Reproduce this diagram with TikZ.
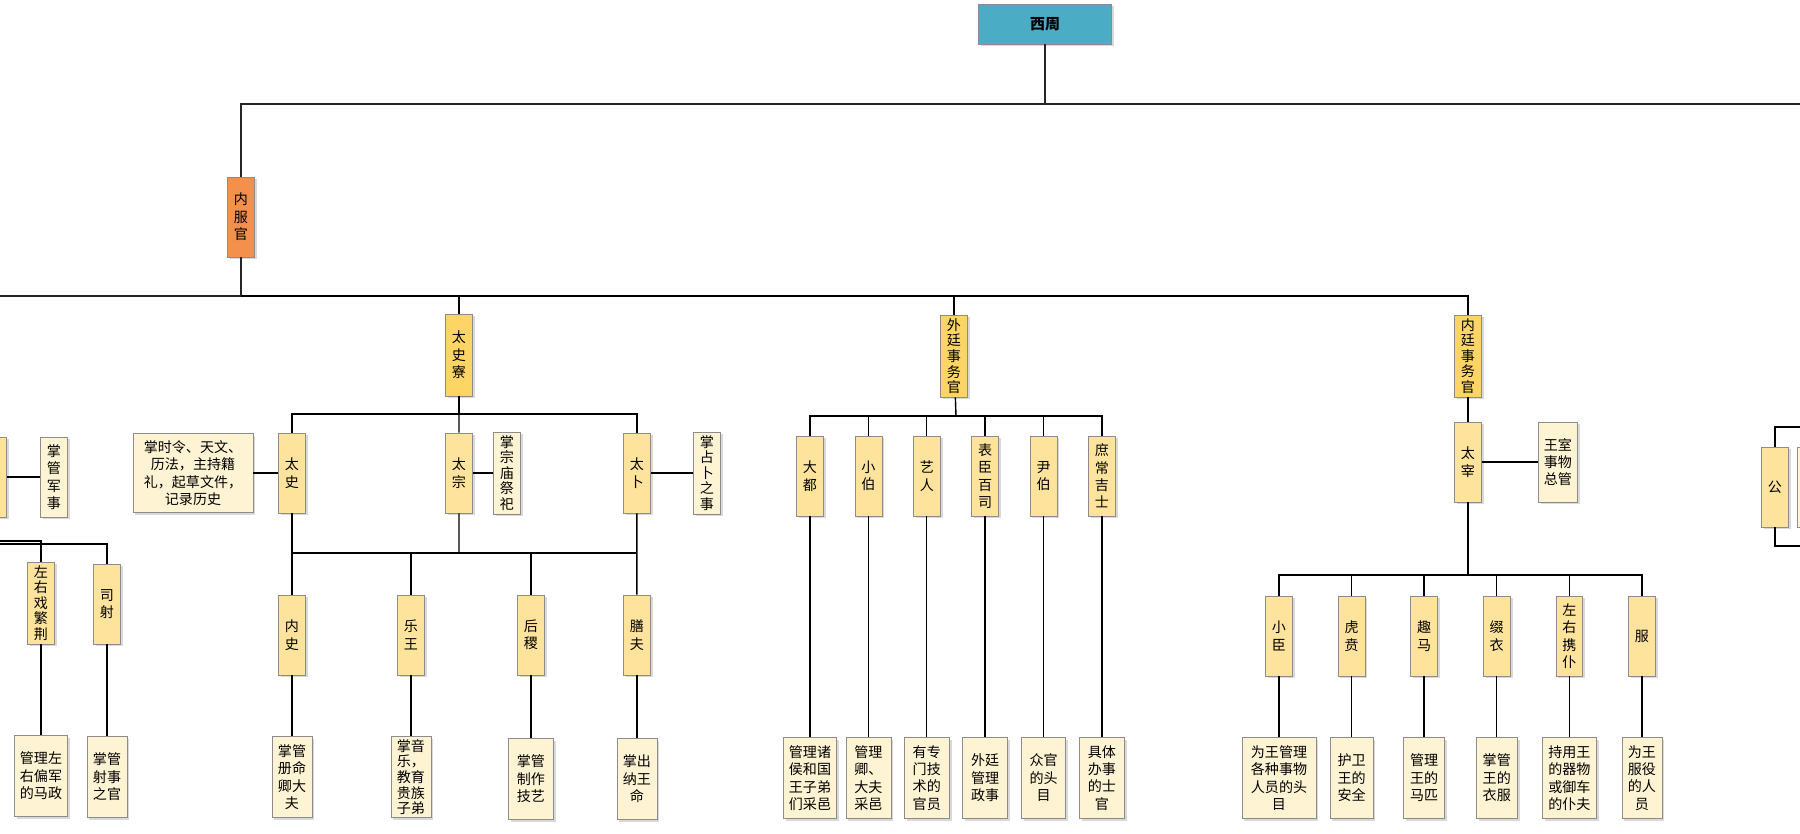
\documentclass[tikz,border=0pt]{standalone}
\usepackage{fontspec}
\newfontfamily\cjk{Noto Sans CJK SC}
\usepackage{tikz}
\usetikzlibrary{positioning,shadows}
\definecolor{zhoublue}{HTML}{4BACC6}
\definecolor{innerorange}{HTML}{F4904E}
\definecolor{deptgold}{HTML}{FCD565}
\definecolor{officegold}{HTML}{FEE39C}
\definecolor{dutycream}{HTML}{FEF3D2}
\tikzset{node distance=2cm,
  box/.style={draw=black!45, line width=0.4pt, align=center, inner sep=1pt,
    font=\cjk\fontsize{8}{9.9}\selectfont,
    drop shadow={shadow xshift=1.3pt, shadow yshift=-1.3pt, opacity=0.3}},
  tall/.style={minimum width=0.54cm, minimum height=1.6cm},
  topbox/.style={box, fill=zhoublue, minimum width=2.66cm, minimum height=0.8cm,
    font=\cjk\bfseries\fontsize{8.5}{10}\selectfont},
  rootbox/.style={box, tall, fill=innerorange},
  dept/.style={box, tall, minimum height=1.64cm, fill=deptgold},
  office/.style={box, tall, fill=officegold},
  duty/.style={box, fill=dutycream, minimum height=1.62cm},
  tight/.style={font=\cjk\fontsize{8}{8.9}\selectfont},
  trunk/.style={draw=black!85, line width=1.1pt},
  link/.style={draw, line width=0.8pt}}
\begin{document}
\begin{tikzpicture}[x=0.02cm, y=-0.02cm]
  \clip (0,0) rectangle (1800,833);
  \node[topbox] (xz) at (1045,24) {西周};
  \node[rootbox] (nfg) at (241,217) {内\\服\\官};
  \coordinate (topbus) at (1045,104);
  \coordinate (topend) at (1830,104);
  \draw[trunk] (xz) -- (topbus);
  \draw[trunk] (nfg) |- (topend);

  % inner court officials
  \coordinate (nbus) at (241,296);
  \coordinate (nbusL) at (-20,296);
  \node[dept] (tsl) at (459,355) {太\\史\\寮};
  \node[dept, tight] (wt) at (954,356) {外\\廷\\事\\务\\官};
  \node[dept, tight] (nt) at (1468,356) {内\\廷\\事\\务\\官};
  \draw[trunk] (nfg) -- (nbus);
  \draw[trunk] (nbusL) -- (nbus);
  \draw[link] (nbus) -| (tsl);
  \draw[link] (nbus) -| (wt);
  \draw[link] (nbus) -| (nt);

  % cut-off branch on the left
  \node[office] (lcut) at (-7,477) {};
  \node[duty, tall] (jgjs) at (54,477) {掌\\管\\军\\事};
  \draw[link] (lcut) -- (jgjs);
  \coordinate (lbusA) at (-20,541);
  \coordinate (lbusB) at (-20,544);
  \node[office, tight, minimum height=1.64cm] (zyxf) at (41,603) {左\\右\\戏\\繁\\荆};
  \node[office] (ss) at (107,604) {司\\射};
  \draw[link] (lbusA) -| (zyxf);
  \draw[link] (lbusB) -| (ss);
  \node[duty, minimum width=1.06cm, below of=zyxf, node distance=3.46cm] (zyxfd) {管理左\\右偏军\\的马政};
  \node[duty, minimum width=0.8cm, below of=ss, node distance=3.46cm] (ssd) {掌管\\射事\\之官};
  \draw[link] (zyxf) -- (zyxfd);
  \draw[link] (ss) -- (ssd);

  % taishiliao
  \coordinate (tslbus) at (459,414);
  \node[office] (tshi) at (292,473) {太\\史};
  \node[office, right of=tshi, node distance=3.34cm] (tzong) {太\\宗};
  \node[office, right of=tzong, node distance=3.56cm] (tbu) {太\\卜};
  \draw[link] (tsl) -- (tslbus);
  \draw[link] (tslbus) -| (tshi);
  \draw[link] (tslbus) -- (tzong);
  \draw[link] (tslbus) -| (tbu);
  \node[duty, minimum width=2.4cm, minimum height=1.58cm, left of=tshi, node distance=1.98cm] (tshid)
    {掌时令、天文、\\历法，主持籍\\礼，起草文件，\\记录历史};
  \node[duty, tall, tight, minimum height=1.64cm, right of=tzong, node distance=0.96cm] (tzongd) {掌\\宗\\庙\\祭\\祀};
  \node[duty, tall, tight, minimum height=1.64cm, right of=tbu, node distance=1.4cm] (tbud) {掌\\占\\卜\\之\\事};
  \draw[link] (tshi) -- (tshid);
  \draw[link] (tzong) -- (tzongd);
  \draw[link] (tbu) -- (tbud);

  \coordinate (tslbus2) at (459,553);
  \node[office] (nshi) at (292,635) {内\\史};
  \node[office, right of=nshi, node distance=2.38cm] (yw) {乐\\王};
  \node[office, right of=yw, node distance=2.4cm] (hj) {后\\稷};
  \node[office, right of=hj, node distance=2.12cm] (sf) {膳\\夫};
  \draw[link] (tshi) -- (nshi);
  \draw[link] (tbu) -- (sf);
  \draw[link] (tzong) -- (tslbus2);
  \draw[link] (tshi |- tslbus2) -- (tbu |- tslbus2);
  \draw[link] (yw) -- (yw |- tslbus2);
  \draw[link] (hj) -- (hj |- tslbus2);
  \node[duty, minimum width=0.8cm, below of=nshi, node distance=2.84cm] (nshid) {掌管\\册命\\卿大\\夫};
  \node[duty, tight, minimum width=0.8cm, below of=yw, node distance=2.84cm] (ywd) {掌音\\乐，\\教育\\贵族\\子弟};
  \node[duty, minimum width=0.9cm, below of=hj, node distance=2.88cm] (hjd) {掌管\\制作\\技艺};
  \node[duty, minimum width=0.8cm, below of=sf, node distance=2.88cm] (sfd) {掌出\\纳王\\命};
  \foreach \n in {nshi,yw,hj,sf} \draw[link] (\n) -- (\n d);

  % outer court affairs
  \coordinate (wtbus) at (956,416);
  \begin{scope}[node distance=1.168cm]
    \node[office] (dd) at (810,476) {大\\都};
    \node[office, right of=dd] (xb) {小\\伯};
    \node[office, right of=xb] (yr) {艺\\人};
    \node[office, right of=yr] (bc) {表\\臣\\百\\司};
    \node[office, right of=bc] (yb) {尹\\伯};
    \node[office, right of=yb] (sc) {庶\\常\\吉\\士};
  \end{scope}
  \draw[link] (wt) -- (wtbus);
  \draw[link] (dd) |- (wtbus) -| (sc);
  \foreach \n in {xb,yr,bc,yb} \draw[link] (\n) -- (\n |- wtbus);
  \begin{scope}[node distance=6.04cm]
    \node[duty, minimum width=1.06cm, below of=dd] (ddd) {管理诸\\侯和国\\王子弟\\们采邑};
    \node[duty, minimum width=0.9cm, below of=xb] (xbd) {管理\\卿、\\大夫\\采邑};
    \node[duty, minimum width=0.9cm, below of=yr] (yrd) {有专\\门技\\术的\\官员};
    \node[duty, minimum width=0.9cm, below of=bc] (bcd) {外廷\\管理\\政事};
    \node[duty, minimum width=0.88cm, below of=yb] (ybd) {众官\\的头\\目};
    \node[duty, minimum width=0.9cm, below of=sc] (scd) {具体\\办事\\的士\\官};
  \end{scope}
  \foreach \n in {dd,xb,yr,bc,yb,sc} \draw[link] (\n) -- (\n d);

  % inner court affairs
  \node[office, below of=nt, node distance=2.12cm] (tz) {太\\宰};
  \node[duty, minimum width=0.78cm, minimum height=1.6cm, right of=tz, node distance=1.8cm] (tzd) {王室\\事物\\总管};
  \draw[link] (nt) -- (tz);
  \draw[link] (tz) -- (tzd);
  \coordinate (ntbus) at (1468,575);
  \draw[link] (tz) -- (ntbus);
  \begin{scope}[node distance=1.452cm]
    \node[office] (xc) at (1279,636) {小\\臣};
    \node[office, right of=xc] (hb) {虎\\贲};
    \node[office, right of=hb] (qm) {趣\\马};
    \node[office, right of=qm] (zy) {缀\\衣};
    \node[office, right of=zy] (zyxp) {左\\右\\携\\仆};
    \node[office, right of=zyxp] (fu) {服};
  \end{scope}
  \draw[link] (xc) |- (ntbus) -| (fu);
  \foreach \n in {hb,qm,zy,zyxp} \draw[link] (\n) -- (\n |- ntbus);
  \begin{scope}[node distance=2.84cm]
    \node[duty, minimum width=1.48cm, below of=xc] (xcd) {为王管理\\各种事物\\人员的头\\目};
    \node[duty, minimum width=0.86cm, below of=hb] (hbd) {护卫\\王的\\安全};
    \node[duty, minimum width=0.82cm, below of=qm] (qmd) {管理\\王的\\马匹};
    \node[duty, minimum width=0.82cm, below of=zy] (zyd) {掌管\\王的\\衣服};
    \node[duty, minimum width=1.08cm, below of=zyxp] (zyxpd) {持用王\\的器物\\或御车\\的仆夫};
    \node[duty, minimum width=0.8cm, below of=fu] (fud) {为王\\服役\\的人\\员};
  \end{scope}
  \foreach \n in {xc,hb,qm,zy,zyxp,fu} \draw[link] (\n) -- (\n d);

  % cut-off branch on the right
  \node[office] (gong) at (1775,487) {公};
  \node[duty, tall, right of=gong, node distance=0.72cm] (gcut) {};
  \coordinate (gtop) at (1830,427);
  \coordinate (gbot) at (1830,546);
  \draw[link] (gong) |- (gtop);
  \draw[link] (gong) |- (gbot);
\end{tikzpicture}
\end{document}
